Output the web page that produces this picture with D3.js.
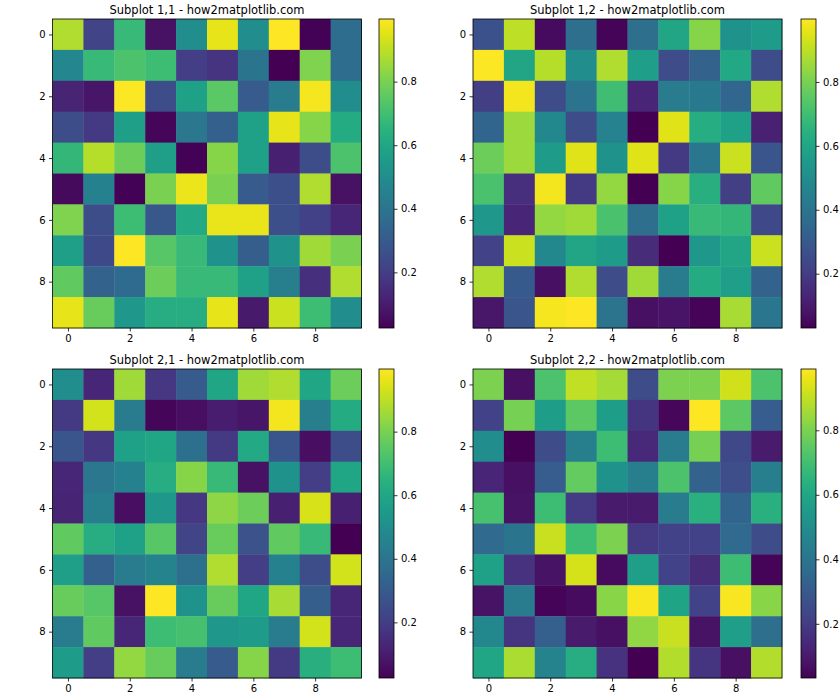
<!DOCTYPE html>
<html><head><meta charset="utf-8">
<script src="https://cdn.jsdelivr.net/npm/d3@7"></script>
<style>
body{margin:0;background:#fff;}
svg{display:block;font-family:"DejaVu Sans",sans-serif;}
</style></head><body>
<svg id="chart" width="840" height="700"></svg>
<script>
const titles = ["Subplot 1,1 - how2matplotlib.com","Subplot 1,2 - how2matplotlib.com","Subplot 2,1 - how2matplotlib.com","Subplot 2,2 - how2matplotlib.com"];
const axisTicks = [0,2,4,6,8];
const colorbarTicks = [0.2,0.4,0.6,0.8];

const data11 = [
 [0.88,0.22,0.68,0.07,0.50,0.96,0.50,0.997,0.03,0.37],
 [0.47,0.68,0.72,0.69,0.20,0.17,0.40,0.025,0.81,0.37],
 [0.12,0.08,0.99,0.25,0.58,0.75,0.30,0.43,0.985,0.50],
 [0.25,0.19,0.57,0.04,0.41,0.32,0.58,0.96,0.82,0.62],
 [0.67,0.89,0.78,0.57,0.03,0.82,0.58,0.11,0.25,0.72],
 [0.05,0.45,0.03,0.80,0.97,0.80,0.30,0.26,0.88,0.07],
 [0.81,0.25,0.69,0.29,0.61,0.965,0.965,0.26,0.21,0.13],
 [0.57,0.24,0.995,0.74,0.68,0.52,0.31,0.52,0.86,0.80],
 [0.76,0.33,0.36,0.78,0.68,0.68,0.58,0.44,0.16,0.88],
 [0.96,0.77,0.54,0.63,0.63,0.96,0.09,0.92,0.69,0.50]
];
const data12 = [
 [0.27,0.90,0.06,0.38,0.04,0.38,0.60,0.82,0.52,0.56],
 [0.99,0.60,0.89,0.50,0.88,0.57,0.25,0.33,0.61,0.25],
 [0.21,0.98,0.25,0.40,0.70,0.13,0.43,0.42,0.35,0.88],
 [0.34,0.85,0.48,0.25,0.46,0.03,0.95,0.63,0.58,0.12],
 [0.78,0.85,0.56,0.95,0.52,0.95,0.19,0.41,0.92,0.28],
 [0.72,0.16,0.98,0.19,0.84,0.03,0.82,0.64,0.21,0.76],
 [0.54,0.13,0.84,0.86,0.72,0.38,0.58,0.68,0.67,0.24],
 [0.22,0.92,0.48,0.60,0.56,0.15,0.03,0.54,0.60,0.92],
 [0.88,0.30,0.07,0.88,0.25,0.86,0.43,0.62,0.57,0.33],
 [0.09,0.28,0.985,0.997,0.40,0.07,0.08,0.04,0.87,0.41]
];
const data21 = [
 [0.50,0.13,0.86,0.18,0.30,0.60,0.86,0.88,0.60,0.78],
 [0.19,0.93,0.43,0.04,0.06,0.10,0.08,0.98,0.44,0.62],
 [0.28,0.18,0.58,0.60,0.38,0.19,0.61,0.28,0.06,0.25],
 [0.13,0.41,0.45,0.63,0.82,0.68,0.07,0.52,0.20,0.60],
 [0.12,0.44,0.06,0.54,0.18,0.83,0.78,0.11,0.94,0.11],
 [0.76,0.63,0.58,0.74,0.22,0.77,0.27,0.76,0.68,0.025],
 [0.57,0.32,0.43,0.46,0.38,0.88,0.20,0.45,0.25,0.93],
 [0.77,0.74,0.07,0.997,0.52,0.77,0.60,0.87,0.31,0.13],
 [0.43,0.76,0.13,0.69,0.71,0.54,0.56,0.43,0.93,0.13],
 [0.56,0.20,0.84,0.77,0.43,0.30,0.82,0.19,0.64,0.69]
];
const data22 = [
 [0.80,0.07,0.72,0.90,0.86,0.25,0.80,0.80,0.92,0.72],
 [0.22,0.79,0.56,0.75,0.56,0.18,0.05,0.99,0.75,0.31],
 [0.50,0.032,0.25,0.44,0.69,0.14,0.43,0.79,0.24,0.10],
 [0.13,0.07,0.31,0.76,0.52,0.44,0.72,0.33,0.26,0.44],
 [0.71,0.08,0.69,0.20,0.10,0.10,0.43,0.64,0.34,0.64],
 [0.36,0.40,0.91,0.69,0.80,0.20,0.22,0.22,0.36,0.25],
 [0.58,0.17,0.08,0.93,0.06,0.57,0.22,0.15,0.69,0.04],
 [0.08,0.43,0.04,0.06,0.82,0.98,0.59,0.22,0.98,0.82],
 [0.48,0.18,0.32,0.10,0.07,0.83,0.91,0.08,0.57,0.38],
 [0.60,0.87,0.46,0.63,0.17,0.032,0.88,0.18,0.07,0.88]
];
const datasets = [data11, data12, data21, data22];

const panels = [
  {x0:52.5, x1:361.5, y0:19, y1:328, cx0:379, cx1:394},
  {x0:473,  x1:782,   y0:19, y1:328, cx0:801, cx1:816},
  {x0:52.5, x1:361.5, y0:369, y1:678, cx0:379, cx1:394},
  {x0:473,  x1:782,   y0:369, y1:678, cx0:801, cx1:816}
];

const svg = d3.select("#chart");
const defs = svg.append("defs");
const grad = defs.append("linearGradient").attr("id","viridisGrad")
  .attr("x1","0").attr("y1","1").attr("x2","0").attr("y2","0");
d3.range(0,1.0001,0.02).forEach(t=>{
  grad.append("stop").attr("offset",t).attr("stop-color",d3.interpolateViridis(t));
});

datasets.forEach((data,k)=>{
  const p = panels[k];
  const flat = data.flat();
  const ext = d3.extent(flat);
  const color = d3.scaleSequential(d3.interpolateViridis).domain(ext);
  const x = d3.scaleLinear().domain([-0.5,9.5]).range([p.x0,p.x1]);
  const y = d3.scaleLinear().domain([-0.5,9.5]).range([p.y0,p.y1]);
  const g = svg.append("g");
  const cells = [];
  data.forEach((row,i)=>row.forEach((v,j)=>cells.push({i,j,v})));
  g.selectAll("rect.cell").data(cells).join("rect").attr("class","cell")
    .attr("x",d=>x(d.j-0.5)).attr("y",d=>y(d.i-0.5))
    .attr("width",d=>x(d.j+0.5)-x(d.j-0.5)+0.4)
    .attr("height",d=>y(d.i+0.5)-y(d.i-0.5)+0.4)
    .attr("fill",d=>color(d.v));
  g.append("rect").attr("x",p.x0).attr("y",p.y0).attr("width",p.x1-p.x0).attr("height",p.y1-p.y0)
    .attr("fill","none").attr("stroke","#000").attr("stroke-width",0.8);

  const xa = g.append("g").attr("transform",`translate(0,${p.y1})`)
    .call(d3.axisBottom(x).tickValues(axisTicks).tickSize(3.5).tickPadding(3.5).tickFormat(d3.format("d")));
  const ya = g.append("g").attr("transform",`translate(${p.x0},0)`)
    .call(d3.axisLeft(y).tickValues(axisTicks).tickSize(3.5).tickPadding(3.5).tickFormat(d3.format("d")));
  [xa,ya].forEach(a=>{
    a.select(".domain").remove();
    a.selectAll("line").attr("stroke","#000").attr("stroke-width",0.8);
    a.selectAll("text").attr("fill","#000").style("font-size","10px").style("font-family","DejaVu Sans");
  });

  g.append("text").attr("x",(p.x0+p.x1)/2).attr("y",p.y0-5.5).attr("text-anchor","middle")
    .style("font-size","11.5px").attr("fill","#000").text(titles[k]);

  // colorbar
  const cb = d3.scaleLinear().domain(ext).range([p.y1,p.y0]);
  g.append("rect").attr("x",p.cx0).attr("y",p.y0).attr("width",p.cx1-p.cx0).attr("height",p.y1-p.y0)
    .attr("fill","url(#viridisGrad)").attr("stroke","#000").attr("stroke-width",0.8);
  const ca = g.append("g").attr("transform",`translate(${p.cx1},0)`)
    .call(d3.axisRight(cb).tickValues(colorbarTicks).tickSize(3.5).tickPadding(3.5).tickFormat(d3.format(".1f")));
  ca.select(".domain").remove();
  ca.selectAll("line").attr("stroke","#000").attr("stroke-width",0.8);
  ca.selectAll("text").attr("fill","#000").style("font-size","10px").style("font-family","DejaVu Sans");
});
</script>
</body></html>
